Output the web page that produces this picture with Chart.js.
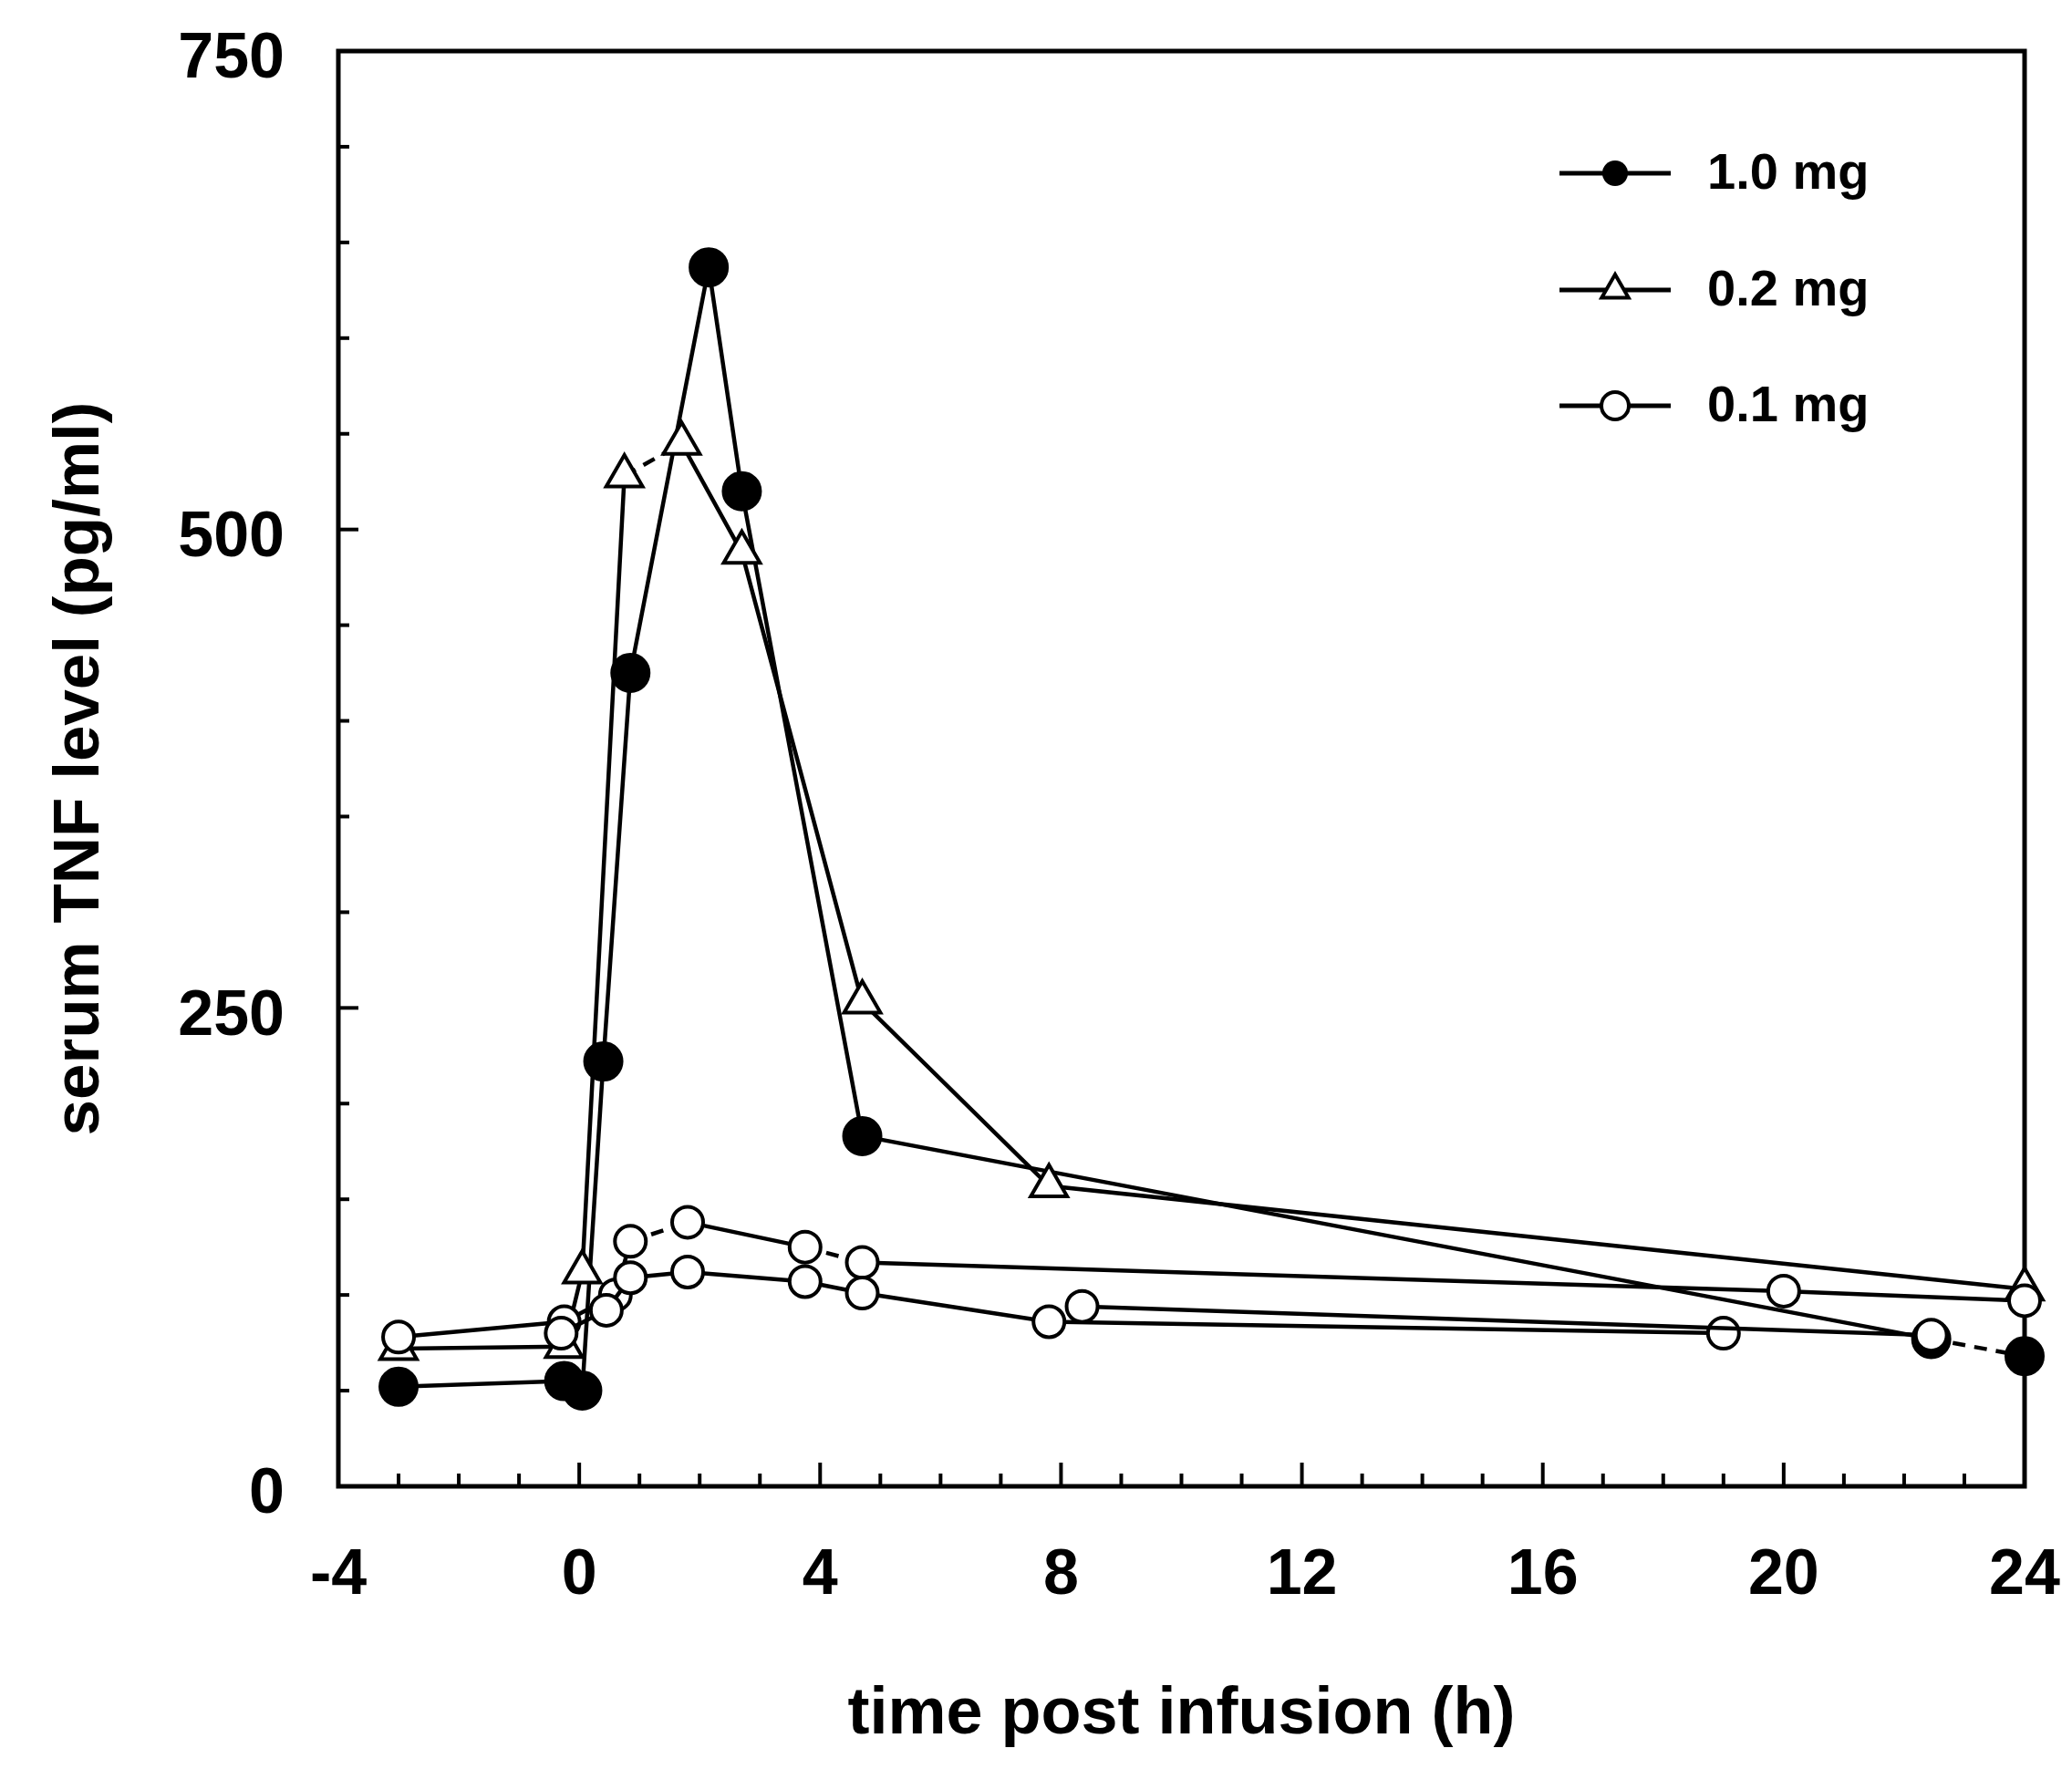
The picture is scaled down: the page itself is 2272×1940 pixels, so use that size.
<!DOCTYPE html>
<html><head><meta charset="utf-8">
<script src="https://cdn.jsdelivr.net/npm/chart.js@4.4.1/dist/chart.umd.min.js"></script>
<style>html,body{margin:0;padding:0;background:#fff}canvas{display:block}</style>
</head><body>
<canvas id="c" width="2272" height="1940" style="width:2272px;height:1940px"></canvas>
<script>
// ---------- data ----------
const xTicks = [-4, 0, 4, 8, 12, 16, 20, 24];
const yTicks = [0, 250, 500, 750];
const legendLabels = ['1.0 mg', '0.2 mg', '0.1 mg'];

// 1.0 mg (filled circles)
const hours10 = [-3, -0.25, 0.05, 0.4, 0.85, 2.15, 2.7, 4.7, 22.45, 24];
const tnf10   = [52, 55, 50, 222, 425, 637, 520, 183, 77, 68];
// 0.2 mg (open triangles)
const hours02 = [-3, -0.25, 0.05, 0.75, 1.7, 2.7, 4.7, 7.8, 24];
const tnf02   = [72, 73, 112, 528, 545, 488, 253, 157, 103];
// 0.1 mg (open circles), several subjects
const hours01a = [-3, -0.25, 0.6, 0.85, 1.8, 3.75, 4.7, 20, 24];
const tnf01a   = [78, 86, 100, 128, 138, 125, 117, 102, 97];
const hours01b = [-0.3, 0.45, 0.85, 1.8, 3.75, 4.7, 7.8, 19];
const tnf01b   = [80, 92, 109, 112, 107, 101, 86, 80];
const hours01c = [8.35, 22.45];
const tnf01c   = [94, 79];

// ---------- styles ----------
const FONT = '"Liberation Sans", Arial, Helvetica, sans-serif';
const dashedSegs = { f10: [8], t02: [3], o01a: [3, 5] };
const pts = (xs, ys) => xs.map((x, i) => ({ x, y: ys[i] }));
const dashFor = key => ({ borderDash: c => dashedSegs[key] && dashedSegs[key].includes(c.p0DataIndex) ? [14, 10] : undefined });

function ds(data, style, key) {
  return Object.assign({
    data, showLine: true, tension: 0, borderColor: '#000', borderWidth: 4.5,
    pointBorderColor: '#000', pointBorderWidth: 4, clip: false,
    segment: dashFor(key)
  }, style);
}
const filled = { pointStyle: 'circle', pointRadius: 20, pointBackgroundColor: '#000' };
const tri = { pointStyle: 'triangle', pointRadius: 23, pointBackgroundColor: '#fff' };
const openC = { pointStyle: 'circle', pointRadius: 17, pointBackgroundColor: '#fff' };

const datasets = [
  ds(pts(hours01c, tnf01c), openC, 'o01c'),
  ds(pts(hours01b, tnf01b), openC, 'o01b'),
  ds(pts(hours01a, tnf01a), openC, 'o01a'),
  ds(pts(hours02, tnf02), tri, 't02'),
  ds(pts(hours10, tnf10), filled, 'f10'),
];

// frame + inward ticks
const framePlugin = {
  id: 'frame',
  beforeDatasetsDraw(chart) {
    const { ctx, chartArea: a, scales: { x, y } } = chart;
    ctx.save();
    ctx.strokeStyle = '#000';
    ctx.lineWidth = 5;
    ctx.strokeRect(a.left, a.top, a.right - a.left, a.bottom - a.top);
    ctx.lineWidth = 4;
    for (let v = xTicks[0]; v <= xTicks[xTicks.length - 1]; v += 1) {
      const px = x.getPixelForValue(v);
      const len = xTicks.includes(v) ? 26 : 14;
      ctx.beginPath(); ctx.moveTo(px, a.bottom); ctx.lineTo(px, a.bottom - len); ctx.stroke();
    }
    for (let v = yTicks[0]; v <= yTicks[yTicks.length - 1]; v += 50) {
      const py = y.getPixelForValue(v);
      const len = yTicks.includes(v) ? 22 : 12;
      ctx.beginPath(); ctx.moveTo(a.left, py); ctx.lineTo(a.left + len, py); ctx.stroke();
    }
    ctx.restore();
  }
};

// legend drawn inside the plot area
const legendPlugin = {
  id: 'insideLegend',
  afterDraw(chart) {
    const { ctx, chartArea: a } = chart;
    const rows = [134, 262, 389];
    ctx.save();
    ctx.strokeStyle = '#000'; ctx.fillStyle = '#000'; ctx.lineWidth = 5;
    legendLabels.forEach((lab, i) => {
      const yy = a.top + rows[i];
      const x0 = a.right - 510, xm = a.right - 449, x1 = a.right - 388;
      ctx.beginPath(); ctx.moveTo(x0, yy); ctx.lineTo(x1, yy); ctx.stroke();
      ctx.lineWidth = 4;
      ctx.beginPath();
      if (i === 0) { ctx.arc(xm, yy, 14, 0, Math.PI * 2); ctx.fillStyle = '#000'; ctx.fill(); }
      else if (i === 1) {
        const r = 17;
        ctx.moveTo(xm, yy - r);
        ctx.lineTo(xm + r * Math.sin(2 * Math.PI / 3), yy - r * Math.cos(2 * Math.PI / 3));
        ctx.lineTo(xm + r * Math.sin(4 * Math.PI / 3), yy - r * Math.cos(4 * Math.PI / 3));
        ctx.closePath(); ctx.fillStyle = '#fff'; ctx.fill(); ctx.stroke();
      } else { ctx.arc(xm, yy, 15, 0, Math.PI * 2); ctx.fillStyle = '#fff'; ctx.fill(); ctx.stroke(); }
      ctx.lineWidth = 5;
      ctx.fillStyle = '#000';
      ctx.font = 'bold 56px ' + FONT;
      ctx.textBaseline = 'middle'; ctx.textAlign = 'left';
      ctx.fillText(lab, a.right - 348, yy + 2);
    });
    ctx.restore();
  }
};

new Chart(document.getElementById('c'), {
  type: 'scatter',
  data: { datasets },
  options: {
    responsive: false, animation: false, devicePixelRatio: 1,
    layout: { padding: { top: 56, right: 52, left: 0, bottom: 0 } },
    plugins: { legend: { display: false }, tooltip: { enabled: false } },
    scales: {
      x: {
        type: 'linear', min: xTicks[0], max: xTicks[xTicks.length - 1],
        afterBuildTicks: s => { s.ticks = xTicks.map(v => ({ value: v })); },
        ticks: { color: '#000', font: { family: FONT, size: 70, weight: 'bold' }, padding: 57, maxRotation: 0, autoSkip: false },
        grid: { display: false, drawTicks: false }, border: { display: false },
        title: { display: true, text: 'time post infusion (h)', color: '#000', font: { family: FONT, size: 72, weight: 'bold' }, padding: { top: 0, bottom: 16 } },
        afterFit: s => { s.height = 310; s.paddingLeft = 0; s.paddingRight = 0; }
      },
      y: {
        type: 'linear', min: yTicks[0], max: yTicks[yTicks.length - 1],
        afterBuildTicks: s => { s.ticks = yTicks.map(v => ({ value: v })); },
        ticks: { color: '#000', font: { family: FONT, size: 70, weight: 'bold' }, padding: 59, labelOffset: 10 },
        grid: { display: false, drawTicks: false }, border: { display: false },
        title: { display: true, text: 'serum TNF level (pg/ml)', color: '#000', font: { family: FONT, size: 71, weight: 'bold' }, padding: { top: 46, bottom: 0 } },
        afterFit: s => { s.width = 371; s.paddingTop = 0; s.paddingBottom = 0; }
      }
    }
  },
  plugins: [framePlugin, legendPlugin]
});
</script>
</body></html>
